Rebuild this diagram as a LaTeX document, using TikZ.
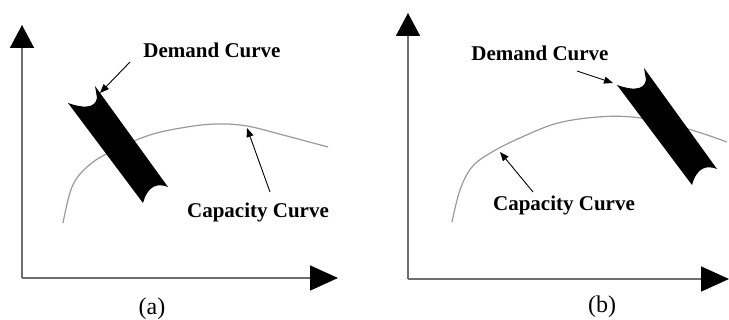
\documentclass[tikz,border=0pt]{standalone}
\usepackage{fontspec}
\setmainfont{Liberation Serif}
\usetikzlibrary{arrows.meta,positioning}
\definecolor{axisGray}{HTML}{6E6E6E}
\definecolor{curveGray}{HTML}{9A9A9A}
\tikzset{
  axis/.style={
    draw=axisGray,
    line width=1.6pt
  },
  axisTipY/.style={
    -{Triangle[length=23pt,width=24pt,color=black]}
  },
  axisTipX/.style={
    -{Triangle[length=28pt,width=25pt,color=black]}
  },
  capacity/.style={
    draw=curveGray,
    line width=1.2pt
  },
  pointer/.style={
    -{Triangle[length=9pt,width=7pt]},
    line width=0.9pt,
    draw=black
  },
  curveLabel/.style={
    font=\fontsize{21}{24}\selectfont\bfseries,
    inner sep=0pt
  },
  caption/.style={
    font=\fontsize{24}{27}\selectfont,
    inner sep=0pt
  },
  demandband/.pic={
    \fill[black] (0,0) .. controls (14,5) and (27,6) .. (29,-5)
      -- (27,-17) -- (100,84) .. controls (90,80) and (80,82) .. (75,100) -- cycle;
  }
}
\begin{document}
\begin{tikzpicture}[x=1pt,y=-1pt]
  \useasboundingbox (0,0) rectangle (729,320);
  % panel (a)
  \coordinate (originA) at (22,278);
  \draw[axis,axisTipY] (originA) -- (22,25);
  \draw[axis,axisTipX] (originA) -- (338,278);
  \draw[capacity] plot[smooth,tension=0.6] coordinates {(63,223) (72,187) (87,167) (110,152) (150,135) (187,127) (217,124) (247,126) (283,135) (328,147)};
  \pic at (68,103) {demandband};
  \node[curveLabel] (demA) at (212,50) {Demand Curve};
  \node[curveLabel] (capA) at (258,212) {Capacity Curve};
  \coordinate (demAtail) at (130,62);
  \coordinate (demAhead) at (100,93);
  \coordinate (capAtail) at (270,192);
  \coordinate (capAhead) at (247,128);
  \draw[pointer] (demAtail) -- (demAhead);
  \draw[pointer] (capAtail) -- (capAhead);
  \node[caption] (capt1) at (152,309) {(a)};
  % panel (b)
  \coordinate (originB) at (408,279);
  \draw[axis,axisTipY] (originB) -- (408,13);
  \draw[axis,axisTipX] (originB) -- (729,279);
  \draw[capacity] plot[smooth,tension=0.6] coordinates {(452,222) (460,190) (472,167) (492,152) (522,137) (558,123) (598,117) (632,117) (665,123) (698,132) (727,142)};
  \pic at (617,85) {demandband};
  \node[curveLabel] (demB) at (540,53) {Demand Curve};
  \node[curveLabel] (capB) at (564,205) {Capacity Curve};
  \coordinate (demBtail) at (577,71);
  \coordinate (demBhead) at (613,83);
  \coordinate (capBtail) at (533,192);
  \coordinate (capBhead) at (500,152);
  \draw[pointer] (demBtail) -- (demBhead);
  \draw[pointer] (capBtail) -- (capBhead);
  \node[caption] (capt2) at (602,307) {(b)};
\end{tikzpicture}
\end{document}
